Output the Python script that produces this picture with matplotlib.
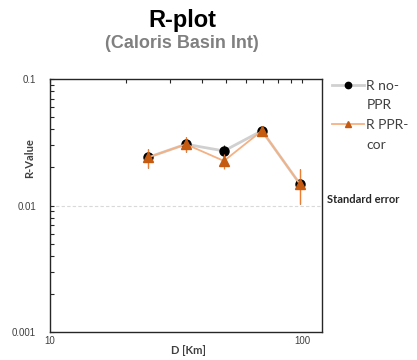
import matplotlib
matplotlib.use("Agg")
import matplotlib.pyplot as plt
import numpy as np
from matplotlib.lines import Line2D
from matplotlib.ticker import LogLocator, NullFormatter, FixedLocator, FixedFormatter
from matplotlib.transforms import blended_transform_factory

# Data
D = [24.5, 34.6, 49.0, 69.3, 98.0]
r_no_ppr = [0.0240, 0.0305, 0.0270, 0.0390, 0.0148]
r_no_ppr_err = [0.0042, 0.0040, 0.0030, 0.0030, 0.0045]
r_ppr_cor = [0.0240, 0.0305, 0.0225, 0.0390, 0.0148]
r_ppr_cor_err = [0.0042, 0.0040, 0.0030, 0.0030, 0.0045]
standard_error = 0.01
xticks = [10, 100]
xtick_labels = ["10", "100"]
yticks = [0.001, 0.01, 0.1]
ytick_labels = ["0.001", "0.01", "0.1"]
legend_lines = ["R no-", "PPR", "R PPR-", "cor"]

W, H = 417, 360
fig = plt.figure(figsize=(W / 100, H / 100), dpi=100)
ax = fig.add_axes([50 / W, (H - 332) / H, 272 / W, 253 / H])

ax.set_xscale("log")
ax.set_yscale("log")
ax.set_xlim(10, 120)
ax.set_ylim(0.001, 0.1)

ax.axhline(standard_error, color="#d9d9d9", lw=0.8, ls=(0, (3, 2)), zorder=1)

c1 = ax.errorbar(D, r_no_ppr, yerr=r_no_ppr_err, color="#d0d0d0", lw=2.0,
                 marker="o", ms=6.5, mfc="black", mec="black",
                 ecolor="#303030", elinewidth=0.8, capsize=0, zorder=2)
c2 = ax.errorbar(D, r_ppr_cor, yerr=r_ppr_cor_err, color="#f4b183", lw=1.3,
                 marker="^", ms=6.5, mfc="#c55a11", mec="#c55a11",
                 ecolor="#ed7d31", elinewidth=0.9, capsize=0, zorder=3)

for s in ax.spines.values():
    s.set_color("#262626")
    s.set_linewidth(1.0)

# ticks
ax.xaxis.set_major_locator(FixedLocator(xticks))
ax.xaxis.set_major_formatter(FixedFormatter(xtick_labels))
ax.xaxis.set_minor_locator(LogLocator(base=10, subs=np.arange(2, 10)))
ax.xaxis.set_minor_formatter(NullFormatter())
ax.tick_params(axis="x", which="both", bottom=False, top=True, direction="in",
               length=3, width=0.8, color="#262626", labelsize=7, labelcolor="#404040", pad=3)
ax.yaxis.set_major_locator(FixedLocator(yticks))
ax.yaxis.set_major_formatter(FixedFormatter(ytick_labels))
ax.yaxis.set_minor_locator(LogLocator(base=10, subs=np.arange(2, 10)))
ax.yaxis.set_minor_formatter(NullFormatter())
ax.tick_params(axis="y", which="both", left=True, direction="in",
               length=3, width=0.8, color="#262626", labelsize=7, labelcolor="#404040", pad=10)
for lbl in ax.get_xticklabels() + ax.get_yticklabels():
    lbl.set_fontfamily("Liberation Sans")

fig.text(188 / W, 1 - 350 / H, "D [Km]", ha="center", va="center",
         fontsize=8, fontweight="bold", family="Lato", color="#404040")
fig.text(30 / W, 1 - 158 / H, "R-Value", rotation=90, ha="center", va="center",
         fontsize=8, fontweight="bold", family="Lato", color="#404040")

trans = blended_transform_factory(ax.transAxes, ax.transData)
ax.text(1.02, standard_error * 1.01, "Standard error", transform=trans, ha="left", va="bottom",
        fontsize=8, fontweight="bold", family="Lato", color="#262626")

fig.text(182 / W, 1 - 20 / H, "R-plot", ha="center", va="center", fontsize=17,
         fontweight="bold", family="Liberation Sans", color="black")
fig.text(182 / W, 1 - 43 / H, "(Caloris Basin Int)", ha="center", va="center", fontsize=13,
         fontweight="bold", family="Liberation Sans", color="#808080")

blank = Line2D([], [], alpha=0)
leg = ax.legend([c1.lines[0], blank, c2.lines[0], blank], legend_lines,
                loc="upper left", bbox_to_anchor=(329 / W, 1 - 77 / H), bbox_transform=fig.transFigure,
                frameon=False, handlelength=2.3, handletextpad=0.2, markerscale=0.7,
                labelspacing=0.55, borderaxespad=0, borderpad=0.2,
                prop={"family": "Lato", "size": 10})
for t in leg.get_texts():
    t.set_color("#404040")

fig.savefig("out.png", dpi=100)
